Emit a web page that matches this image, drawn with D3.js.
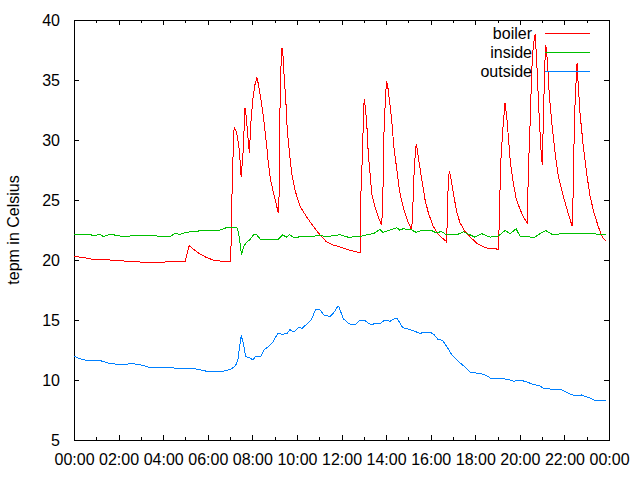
<!DOCTYPE html>
<html>
<head>
<meta charset="utf-8">
<script src="https://cdn.jsdelivr.net/npm/d3@7/dist/d3.min.js"></script>
<style>
  html, body { margin: 0; padding: 0; background: #fff; }
  svg { display: block; }
  text { font-family: "Liberation Sans", Arial, sans-serif; fill: #000; }
</style>
</head>
<body>
<svg id="chart" width="640" height="480"></svg>
<script>
// ---------- data ----------
const seriesNames = ["boiler", "inside", "outside"];
const seriesColors = ["#ff0000", "#00c000", "#0080ff"];

const boilerTimes = ["00:00","00:25","00:43","01:05","01:28","01:37","02:22","03:16","04:32","04:59","05:10","05:21","05:39","05:57","06:15","06:38","07:02","07:04","07:09","07:11","07:18","07:25","07:30","07:36","07:40","07:43","07:52","07:56","08:01","08:07","08:12","08:16","08:21","08:28","08:34","08:39","08:43","08:49","08:57","09:04","09:10","09:13","09:14","09:17","09:20","09:23","09:25","09:31","09:34","09:40","09:46","09:55","10:08","10:26","10:44","11:02","11:20","11:38","12:05","12:23","12:50","12:52","12:56","12:59","13:01","13:04","13:08","13:12","13:17","13:21","13:30","13:39","13:48","13:51","13:54","13:58","14:01","14:04","14:09","14:15","14:21","14:29","14:36","14:42","14:51","15:00","15:09","15:12","15:16","15:21","15:24","15:29","15:36","15:45","15:54","16:07","16:21","16:40","16:43","16:47","16:50","16:54","17:01","17:10","17:19","17:32","17:50","18:08","18:31","19:02","19:05","19:08","19:14","19:20","19:25","19:29","19:34","19:41","19:50","20:01","20:09","20:20","20:23","20:28","20:32","20:36","20:41","20:45","20:50","20:54","20:58","21:01","21:03","21:08","21:10","21:14","21:19","21:26","21:35","21:44","21:57","22:10","22:21","22:24","22:27","22:31","22:34","22:37","22:42","22:51","23:00","23:09","23:20","23:31","23:42","23:51"];
const boilerValues = [20.3,20.2,20.1,20.0,20.05,20.0,19.9,19.8,19.85,19.85,21.2,20.9,20.5,20.2,20.0,19.9,19.9,24.0,29.7,31.06,30.6,29.2,26.9,29.4,32.7,32.1,28.9,31.4,33.3,34.6,35.2,34.7,33.75,32.4,30.8,29.4,28.1,26.7,25.6,24.7,23.9,26.1,31.9,36.1,37.7,36.9,35.6,32.8,30.8,28.9,27.2,25.8,24.5,23.6,22.8,22.1,21.5,21.25,21.0,20.8,20.6,25.3,28.6,31.7,33.4,32.8,31.4,28.9,27.2,25.6,24.4,23.6,22.9,24.7,30.3,33.3,34.9,34.6,33.3,31.7,29.4,27.5,25.8,24.9,23.9,23.1,22.5,24.4,27.8,29.7,29.2,28.1,26.7,25.0,23.9,22.8,22.1,21.6,21.5,26.1,27.4,26.9,25.6,24.0,23.1,22.4,21.8,21.3,21.0,20.9,23.3,27.8,30.8,33.1,31.9,30.3,28.3,26.7,25.1,24.2,23.6,23.1,27.5,31.7,35.8,37.8,38.8,36.9,33.3,30.8,28.6,27.9,31.7,36.9,37.9,36.7,33.9,31.4,28.9,26.9,25.3,23.9,22.8,26.1,31.9,34.6,36.4,34.7,32.2,29.4,27.2,25.3,23.9,22.8,21.9,21.6];

const insideTimes = ["00:00","00:16","00:34","00:43","00:52","01:10","01:19","01:37","01:55","02:13","02:49","03:25","03:43","04:18","04:32","04:45","05:03","05:21","06:06","06:33","06:51","07:18","07:22","07:27","07:31","07:36","07:45","07:54","08:03","08:12","08:21","09:10","09:22","09:31","09:40","09:50","10:35","11:02","11:20","11:56","12:18","12:50","13:08","13:26","13:44","13:51","14:02","14:29","14:36","14:46","15:09","15:21","15:40","16:03","16:12","16:30","16:43","17:10","17:28","17:46","17:59","18:17","18:40","19:02","19:20","19:34","19:50","20:01","20:41","20:54","21:10","21:26","22:24","23:53"];
const insideValues = [22.1,22.15,22.1,22.15,22.0,22.15,21.95,22.15,22.05,21.95,22.05,22.05,22.0,21.95,22.2,22.15,22.3,22.4,22.45,22.5,22.7,22.7,22.4,21.4,20.4,21.1,21.5,21.7,22.1,22.1,21.75,21.75,22.1,21.9,22.1,21.9,21.95,22.05,21.95,22.1,21.9,21.95,22.1,22.2,22.55,22.3,22.4,22.7,22.5,22.6,22.5,22.3,22.5,22.45,22.3,22.35,22.1,22.1,22.35,22.1,21.9,22.2,21.9,22.0,22.45,22.2,22.6,21.95,21.9,22.2,22.45,22.15,22.2,22.15];

const outsideTimes = ["00:00","00:22","00:45","01:12","01:34","01:57","02:23","02:28","02:41","03:08","03:22","04:20","04:29","05:14","05:32","05:54","06:44","07:02","07:15","07:21","07:26","07:30","07:36","07:42","07:56","08:01","08:09","08:23","08:31","08:40","08:54","09:09","09:21","09:34","09:41","09:52","10:06","10:14","10:28","10:39","10:51","11:02","11:13","11:29","11:38","11:49","11:53","12:05","12:21","12:36","12:50","13:03","13:19","13:30","13:44","13:57","14:11","14:22","14:30","14:45","15:00","15:13","15:31","15:58","16:09","16:19","16:32","16:43","16:57","17:10","17:28","17:46","18:13","18:31","18:44","18:58","19:11","19:34","19:43","20:01","20:19","20:36","20:54","21:05","21:21","21:37","21:53","22:06","22:28","22:46","23:04","23:27","23:45","23:51"];
const outsideValues = [11.97,11.7,11.6,11.6,11.4,11.3,11.3,11.4,11.35,11.2,11.05,11.05,11.0,11.0,10.9,10.75,10.75,10.9,11.2,11.67,12.8,13.7,13.05,11.97,11.8,11.67,11.97,12.0,12.5,12.7,13.1,13.9,13.8,13.9,14.2,14.0,14.4,14.3,14.7,15.05,15.9,15.85,15.4,15.3,15.55,16.1,16.1,15.1,14.67,14.6,15.0,14.95,14.6,14.7,14.7,15.0,14.9,15.1,15.1,14.36,14.25,14.1,13.9,14.0,13.8,13.4,13.3,12.8,12.1,11.67,11.2,10.64,10.55,10.36,10.1,10.15,10.14,10.0,9.9,10.0,9.83,9.64,9.5,9.3,9.25,9.17,9.17,8.97,8.67,8.75,8.55,8.25,8.33,8.33];

const xTickLabels = ["00:00","02:00","04:00","06:00","08:00","10:00","12:00","14:00","16:00","18:00","20:00","22:00","00:00"];
const yTicks = [5, 10, 15, 20, 25, 30, 35, 40];
const yLabel = "tepm in Celsius";

// ---------- helpers ----------
function toHours(s) { const [h, m] = s.split(":").map(Number); return h + m / 60; }
function zip(times, values) { return times.map((t, i) => ({ t: toHours(t), v: values[i] })); }
const series = [zip(boilerTimes, boilerValues), zip(insideTimes, insideValues), zip(outsideTimes, outsideValues)];

// ---------- layout ----------
const svg = d3.select("#chart");
const L = 74, R = 609, T = 20, B = 440;
const x = d3.scaleLinear().domain([0, 24]).range([L, R]);
const y = d3.scaleLinear().domain([5, 40]).range([B, T]);

const majorX = d3.range(0, 25, 2);
const minorX = d3.range(1, 24, 2);

const fs = "16px";
svg.append("g").attr("transform", `translate(0,${B})`)
  .call(d3.axisBottom(x).tickValues(majorX).tickSizeInner(-5).tickSizeOuter(0).tickPadding(14)
    .tickFormat((d, i) => xTickLabels[i]));
svg.append("g").attr("transform", `translate(0,${B})`)
  .call(d3.axisBottom(x).tickValues(minorX).tickSizeInner(-3).tickSizeOuter(0).tickFormat(""));
svg.append("g").attr("transform", `translate(0,${T})`)
  .call(d3.axisTop(x).tickValues(majorX).tickSizeInner(-5).tickSizeOuter(0).tickFormat(""));
svg.append("g").attr("transform", `translate(0,${T})`)
  .call(d3.axisTop(x).tickValues(minorX).tickSizeInner(-3).tickSizeOuter(0).tickFormat(""));
svg.append("g").attr("transform", `translate(${L},0)`)
  .call(d3.axisLeft(y).tickValues(yTicks).tickSizeInner(-5).tickSizeOuter(0).tickPadding(14).tickFormat(d3.format("d")));
svg.append("g").attr("transform", `translate(${R},0)`)
  .call(d3.axisRight(y).tickValues(yTicks).tickSizeInner(-5).tickSizeOuter(0).tickFormat(""));

svg.selectAll(".domain").remove();
svg.selectAll(".tick line").attr("stroke", "#000").attr("shape-rendering", "crispEdges");
svg.selectAll(".tick text").attr("font-size", fs).attr("font-family", "Liberation Sans, Arial, sans-serif").attr("fill", "#000");

// frame
svg.append("rect").attr("x", L + 0.5).attr("y", T + 0.5).attr("width", R - L).attr("height", B - T)
  .attr("fill", "none").attr("stroke", "#000").attr("stroke-width", 1).attr("shape-rendering", "crispEdges");

// y label
svg.append("text").attr("transform", `translate(19,${(T + B) / 2}) rotate(-90)`)
  .attr("text-anchor", "middle").attr("font-size", fs).text(yLabel);

// lines
const line = d3.line().x(d => x(d.t)).y(d => y(d.v));
series.forEach((s, i) => {
  svg.append("path").datum(s).attr("d", line)
    .attr("fill", "none").attr("stroke", seriesColors[i]).attr("stroke-width", 1)
    .attr("shape-rendering", "crispEdges");
});

// legend
seriesNames.forEach((n, i) => {
  const yy = 33.5 + i * 19;
  svg.append("text").attr("x", 532).attr("y", yy).attr("dy", "0.35em")
    .attr("text-anchor", "end").attr("font-size", fs).text(n);
  svg.append("line").attr("x1", 545).attr("x2", 590).attr("y1", yy).attr("y2", yy)
    .attr("stroke", seriesColors[i]).attr("stroke-width", 1).attr("shape-rendering", "crispEdges");
});
</script>
</body>
</html>
